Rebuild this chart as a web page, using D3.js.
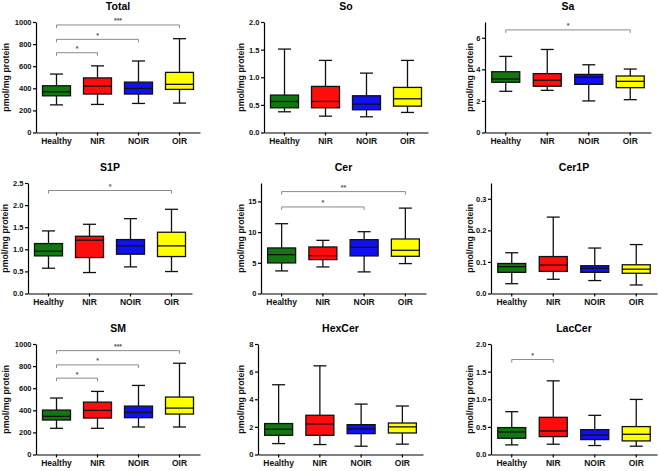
<!DOCTYPE html>
<html>
<head>
<meta charset="utf-8">
<script src="https://cdn.jsdelivr.net/npm/d3@7"></script>
<style>
  html, body { margin: 0; padding: 0; background: #fff; }
  svg { display: block; font-family: "Liberation Sans", Arial, sans-serif; }
</style>
</head>
<body>
<svg id="chart" width="658" height="471"></svg>
<script>
// ---------------- DATA ----------------
const categories = ["Healthy", "NIR", "NOIR", "OIR"];
const panelTitles = ["Total", "So", "Sa", "S1P", "Cer", "Cer1P", "SM", "HexCer", "LacCer"];
const yAxisLabel = "pmol/mg protein";

// y domain maxima and tick values per panel
const yMax = [1000, 2.0, 7, 2.5, 18, 0.35, 1000, 8, 2.0];
const yTicks = [
  [0, 200, 400, 600, 800, 1000],
  [0, 0.5, 1.0, 1.5, 2.0],
  [0, 2, 4, 6],
  [0, 0.5, 1.0, 1.5, 2.0, 2.5],
  [0, 5, 10, 15],
  [0, 0.1, 0.2, 0.3],
  [0, 200, 400, 600, 800, 1000],
  [0, 2, 4, 6, 8],
  [0, 0.5, 1.0, 1.5, 2.0]
];
const yTickFormat = [".0f", ".1f", ".0f", ".1f", ".0f", ".1f", ".0f", ".0f", ".1f"];

// box statistics per group: [min whisker, Q1, median, Q3, max whisker]
const totalStats  = [[250, 332, 368, 423, 529], [254, 348, 420, 494, 603], [263, 348, 399, 456, 647], [266, 390, 436, 544, 849]];
const soStats     = [[0.375, 0.447, 0.562, 0.677, 1.51], [0.296, 0.447, 0.562, 0.834, 1.305], [0.284, 0.411, 0.514, 0.665, 1.075], [0.363, 0.477, 0.61, 0.816, 1.305]];
const saStats     = [[2.61, 3.18, 3.39, 3.85, 4.82], [2.67, 2.93, 3.31, 3.73, 5.26], [2.0, 3.05, 3.50, 3.68, 4.29], [2.08, 2.84, 3.24, 3.58, 4.02]];
const s1pStats    = [[0.572, 0.851, 0.956, 1.13, 1.416], [0.474, 0.813, 1.205, 1.295, 1.566], [0.602, 0.889, 1.077, 1.22, 1.694], [0.497, 0.836, 1.077, 1.386, 1.905]];
const cerStats    = [[3.68, 4.98, 6.33, 7.42, 11.37], [4.33, 5.52, 6.17, 7.58, 8.66], [3.52, 6.12, 7.53, 8.77, 10.07], [4.87, 6.06, 7.04, 8.88, 13.91]];
const cer1pStats  = [[0.031, 0.067, 0.085, 0.095, 0.129], [0.045, 0.07, 0.09, 0.117, 0.242], [0.041, 0.067, 0.08, 0.088, 0.144], [0.027, 0.064, 0.077, 0.091, 0.155]];
const smStats     = [[237, 312, 345, 402, 511], [237, 330, 399, 474, 571], [249, 333, 381, 438, 625], [249, 366, 420, 520, 826]];
const hexcerStats = [[0.79, 1.39, 1.83, 2.24, 5.05], [0.72, 1.39, 2.21, 2.84, 6.42], [0.6, 1.51, 1.85, 2.16, 3.65], [0.75, 1.56, 2.0, 2.28, 3.51]];
const laccerStats = [[0.174, 0.294, 0.408, 0.487, 0.775], [0.186, 0.324, 0.426, 0.673, 1.333], [0.162, 0.27, 0.354, 0.45, 0.709], [0.15, 0.246, 0.366, 0.505, 0.997]];
const allStats = [totalStats, soStats, saStats, s1pStats, cerStats, cer1pStats, smStats, hexcerStats, laccerStats];

// significance comparisons: [group from, group to, level (data units), label]
const totalSig  = [[0, 1, 722, "*"], [0, 2, 843, "*"], [0, 3, 973, "***"]];
const soSig     = [];
const saSig     = [[0, 3, 6.5, "*"]];
const s1pSig    = [[0, 3, 2.33, "*"]];
const cerSig    = [[0, 2, 14.1, "*"], [0, 3, 16.6, "**"]];
const cer1pSig  = [];
const smSig     = [[0, 1, 691, "*"], [0, 2, 811, "*"], [0, 3, 940, "***"]];
const hexcerSig = [];
const laccerSig = [[0, 1, 1.72, "*"]];
const allSig = [totalSig, soSig, saSig, s1pSig, cerSig, cer1pSig, smSig, hexcerSig, laccerSig];

const groupColors = ["#117811", "#ff0d0d", "#1010f0", "#ffff00"];

// ---------------- LAYOUT ----------------
const panelW = 219, panelH = 157;
const axisLeft = [36, 45, 47, 28, 42, 53, 36, 39, 53];
const plotW = [164, 164, 166, 164, 165, 166, 164, 165, 166];
const yTitleX = [6, 22, 32, 5, 22, 32, 6, 22, 32];
const rowTop = [22, 26, 30];
const plotH = 110.5;
const titleY = [10, 14, 18];

const svg = d3.select("#chart");

panelTitles.forEach((title, i) => {
  const col = i % 3, row = Math.floor(i / 3);
  const g = svg.append("g").attr("transform", `translate(${col * panelW},${row * panelH})`);
  const left = axisLeft[i], top = rowTop[row], bottom = top + plotH, right = left + plotW[i];

  const x = d3.scaleBand().domain(categories).range([left, right]).paddingInner(0).paddingOuter(0);
  const y = d3.scaleLinear().domain([0, yMax[i]]).range([bottom, top]);

  // title
  g.append("text").attr("x", (left + right) / 2).attr("y", titleY[row])
    .attr("text-anchor", "middle").attr("font-size", 10.5).attr("font-weight", "bold").text(title);

  // y axis
  const yAxis = d3.axisLeft(y).tickValues(yTicks[i]).tickFormat(d3.format(yTickFormat[i])).tickSize(3).tickPadding(1.5).tickSizeOuter(0);
  const ya = g.append("g").attr("transform", `translate(${left},0)`).call(yAxis);
  ya.select(".domain").attr("stroke", "#000").attr("stroke-width", 1.2);
  ya.selectAll(".tick line").attr("stroke", "#000").attr("stroke-width", 1.2);
  ya.selectAll(".tick text").attr("font-size", 7.5).attr("font-weight", "bold").attr("fill", "#111").attr("font-family", "Liberation Sans, Arial, sans-serif");

  // x axis
  const xAxis = d3.axisBottom(x).tickSize(3).tickPadding(2).tickSizeOuter(0);
  const xa = g.append("g").attr("transform", `translate(0,${bottom})`).call(xAxis);
  xa.select(".domain").attr("stroke", "#000").attr("stroke-width", 1.2);
  xa.selectAll(".tick line").attr("stroke", "#000").attr("stroke-width", 1.2);
  xa.selectAll(".tick text").attr("font-size", 8.5).attr("font-weight", "bold").attr("fill", "#111").attr("font-family", "Liberation Sans, Arial, sans-serif");

  // y axis title
  g.append("text").attr("transform", `translate(${yTitleX[i] + 3},${(top + bottom) / 2}) rotate(-90)`)
    .attr("text-anchor", "middle").attr("font-size", 8.8).attr("font-weight", "bold").attr("fill", "#111").text(yAxisLabel);

  // boxes
  const boxW = 28, capW = 13;
  allStats[i].forEach((s, k) => {
    const cx = x(categories[k]) + x.bandwidth() / 2;
    const [lo, q1, med, q3, hi] = s;
    const bg = g.append("g");
    bg.append("line").attr("x1", cx).attr("x2", cx).attr("y1", y(hi)).attr("y2", y(q3)).attr("stroke", "#111").attr("stroke-width", 1.3);
    bg.append("line").attr("x1", cx).attr("x2", cx).attr("y1", y(q1)).attr("y2", y(lo)).attr("stroke", "#111").attr("stroke-width", 1.3);
    bg.append("line").attr("x1", cx - capW / 2).attr("x2", cx + capW / 2).attr("y1", y(hi)).attr("y2", y(hi)).attr("stroke", "#111").attr("stroke-width", 1.3);
    bg.append("line").attr("x1", cx - capW / 2).attr("x2", cx + capW / 2).attr("y1", y(lo)).attr("y2", y(lo)).attr("stroke", "#111").attr("stroke-width", 1.3);
    bg.append("rect").attr("x", cx - boxW / 2).attr("y", y(q3)).attr("width", boxW).attr("height", y(q1) - y(q3))
      .attr("fill", groupColors[k]).attr("stroke", "#111").attr("stroke-width", 1.3);
    bg.append("line").attr("x1", cx - boxW / 2).attr("x2", cx + boxW / 2).attr("y1", y(med)).attr("y2", y(med)).attr("stroke", "#111").attr("stroke-width", 1.3);
  });

  // significance brackets
  allSig[i].forEach(([a, b, lvl, lab]) => {
    const x1 = x(categories[a]) + x.bandwidth() / 2;
    const x2 = x(categories[b]) + x.bandwidth() / 2;
    const yy = y(lvl);
    g.append("path").attr("d", `M${x1},${yy + 3}V${yy}H${x2}V${yy + 3}`)
      .attr("fill", "none").attr("stroke", "#8a8a8a").attr("stroke-width", 1);
    g.append("text").attr("x", (x1 + x2) / 2).attr("y", yy - 1.5).attr("text-anchor", "middle")
      .attr("font-size", 7).attr("font-weight", "bold").attr("fill", "#555").text(lab);
  });
});
</script>
</body>
</html>
